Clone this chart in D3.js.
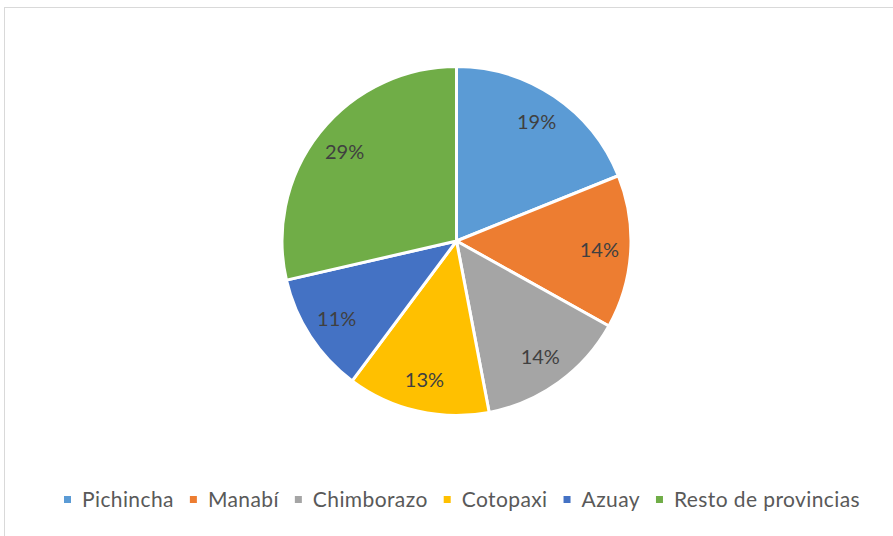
<!DOCTYPE html>
<html>
<head>
<meta charset="utf-8">
<script src="https://cdn.jsdelivr.net/npm/d3@7"></script>
<style>
  body { margin: 0; background: #fff; }
  svg { display: block; }
  text { font-family: Lato, "Open Sans", sans-serif; }
</style>
</head>
<body>
<svg id="chart"></svg>
<script>
// provinces and their share (percent)
const provinces = ['Pichincha', 'Manabí', 'Chimborazo', 'Cotopaxi', 'Azuay', 'Resto de provincias'];
const shares = [18.9, 14.2, 13.9, 13.2, 11.2, 28.6];
const colors = ['#5B9BD5', '#ED7D31', '#A5A5A5', '#FFC000', '#4472C4', '#70AD47'];

const width = 893, height = 536;
const cx = 456.5, cy = 241, radius = 174.5;

const data = provinces.map((p, i) => ({ name: p, value: shares[i], color: colors[i] }));

const svg = d3.select('#chart')
  .attr('width', width)
  .attr('height', height);

// chart area border
svg.append('rect')
  .attr('x', 4.5)
  .attr('y', 7.5)
  .attr('width', width + 10)
  .attr('height', height + 10)
  .attr('fill', '#fff')
  .attr('stroke', '#d9d9d9')
  .attr('stroke-width', 1);

const pie = d3.pie()
  .value(d => d.value)
  .sort(null);

const arc = d3.arc()
  .innerRadius(0)
  .outerRadius(radius);

const labelArc = d3.arc()
  .innerRadius(radius * 0.82)
  .outerRadius(radius * 0.82);

const g = svg.append('g')
  .attr('transform', `translate(${cx},${cy})`);

const arcs = pie(data);

g.selectAll('.slice')
  .data(arcs)
  .enter()
  .append('path')
  .attr('class', 'slice')
  .attr('d', arc)
  .attr('fill', d => d.data.color)
  .attr('stroke', '#fff')
  .attr('stroke-width', 3)
  .attr('stroke-linejoin', 'round');

g.selectAll('.label')
  .data(arcs)
  .enter()
  .append('text')
  .attr('class', 'label')
  .attr('transform', d => `translate(${labelArc.centroid(d)})`)
  .attr('text-anchor', 'middle')
  .attr('dy', '0.35em')
  .attr('fill', '#404040')
  .style('font-size', '20px')
  .text(d => Math.round(d.data.value) + '%');

// legend, laid out left to right and centred under the pie
const legend = svg.append('g').attr('class', 'legend');
const items = legend.selectAll('.item')
  .data(data)
  .enter()
  .append('g')
  .attr('class', 'item');

items.append('rect')
  .attr('width', 7)
  .attr('height', 7)
  .attr('y', -11)
  .attr('fill', d => d.color);

items.append('text')
  .attr('x', 18)
  .attr('fill', '#595959')
  .style('font-size', '21px')
  .style('letter-spacing', '0.4px')
  .text(d => d.name);

const gap = 16;
let xPos = 0;
items.each(function () {
  const item = d3.select(this);
  item.attr('transform', `translate(${xPos},0)`);
  xPos += 18 + item.select('text').node().getComputedTextLength() + gap;
});
const legendWidth = xPos - gap;
legend.attr('transform', `translate(${(67 + 857) / 2 - legendWidth / 2},507)`);
</script>
</body>
</html>
